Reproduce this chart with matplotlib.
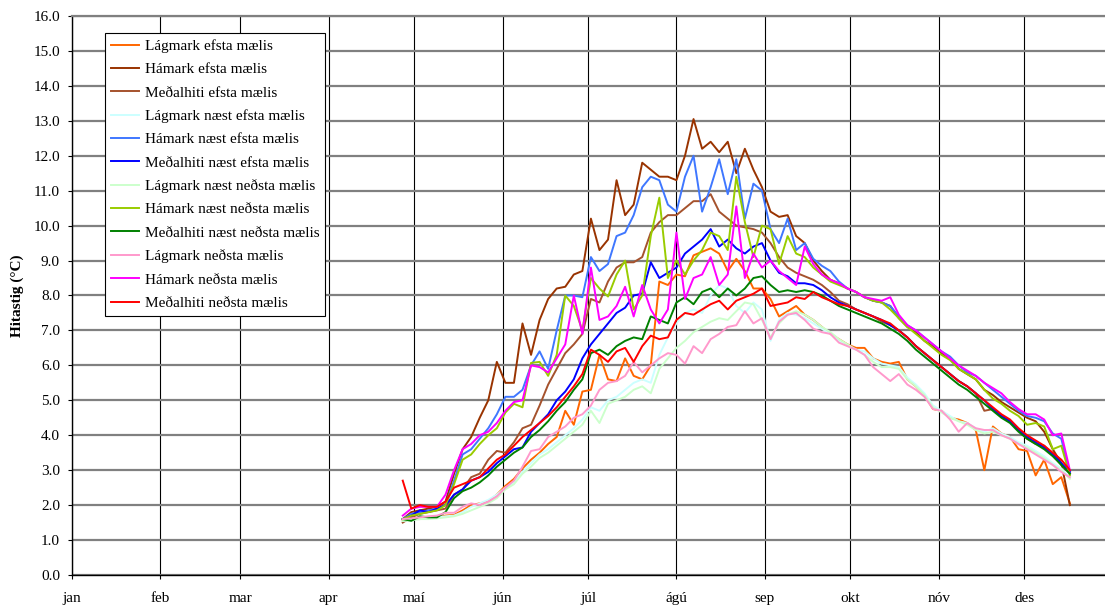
import matplotlib
matplotlib.use("Agg")
import matplotlib.pyplot as plt

plt.rcParams['font.family'] = ['Liberation Serif', 'DejaVu Serif']

# day of year (jan 1 = 0), one reading every third day
days = list(range(116, 351, 3))

months = ['jan', 'feb', 'mar', 'apr', 'maí', 'jún', 'júl', 'ágú', 'sep', 'okt', 'nóv', 'des']
month_start = [0, 31, 59, 90, 120, 151, 181, 212, 243, 273, 304, 334]

low_e = [1.55, 1.6, 1.6, 1.65, 1.65, 1.7, 1.72, 1.85, 2.0, 2.05,
         2.1, 2.3, 2.55, 2.75, 3.05, 3.3, 3.5, 3.75, 3.95, 4.7,
         4.3, 5.25, 5.3, 6.3, 5.6, 5.55, 6.2, 5.7, 5.6, 6.0,
         8.4, 8.3, 8.6, 8.55, 9.15, 9.25, 9.35, 9.2, 8.7, 9.05,
         8.7, 8.2, 8.2, 7.9, 7.4, 7.55, 7.7, 7.45, 7.3, 7.1,
         6.9, 6.75, 6.6, 6.5, 6.5, 6.2, 6.1, 6.05, 6.1, 5.6,
         5.4, 5.15, 4.75, 4.7, 4.5, 4.45, 4.35, 4.15, 3.0, 4.25,
         4.05, 3.95, 3.6, 3.55, 2.85, 3.3, 2.6, 2.8, 2.05]
hmax_e = [1.6, 1.8, 1.85, 1.9, 1.95, 2.1, 2.9, 3.6, 3.95, 4.5,
          5.0, 6.1, 5.5, 5.5, 7.2, 6.3, 7.3, 7.9, 8.2, 8.25,
          8.6, 8.7, 10.2, 9.3, 9.6, 11.3, 10.3, 10.6, 11.8, 11.6,
          11.4, 11.4, 11.3, 12.0, 13.05, 12.2, 12.4, 12.1, 12.4, 11.5,
          12.2, 11.6, 11.1, 10.4, 10.25, 10.3, 9.7, 9.5, 9.0, 8.7,
          8.45, 8.35, 8.2, 8.1, 7.95, 7.85, 7.8, 7.7, 7.35, 7.1,
          6.95, 6.7, 6.55, 6.35, 6.2, 5.9, 5.75, 5.6, 5.3, 5.15,
          4.95, 4.8, 4.65, 4.5, 4.4, 4.1, 3.6, 3.2, 2.0]
mean_e = [1.5, 1.65, 1.75, 1.8, 1.85, 1.9, 2.3, 2.45, 2.8, 2.9,
          3.3, 3.55, 3.5, 3.8, 4.2, 4.3, 4.85, 5.45, 5.9, 6.35,
          6.6, 6.9, 7.9, 7.8, 8.4, 8.8, 8.95, 8.95, 9.1, 9.8,
          10.1, 10.3, 10.3, 10.5, 10.7, 10.7, 10.9, 10.4, 10.2, 10.0,
          9.95, 9.9, 9.8, 9.5, 9.1, 8.8, 8.65, 8.55, 8.45, 8.3,
          8.1, 7.85, 7.75, 7.6, 7.5, 7.4, 7.25, 7.15, 7.0, 6.8,
          6.55, 6.35, 6.15, 5.95, 5.75, 5.55, 5.4, 5.2, 4.7, 4.75,
          4.55, 4.4, 4.15, 3.9, 3.75, 3.7, 3.45, 3.15, 2.9]
low_ne = [1.55, 1.58, 1.6, 1.62, 1.65, 1.68, 1.7, 1.8, 1.95, 2.05,
          2.15, 2.3, 2.5, 2.65, 2.95, 3.2, 3.45, 3.6, 3.8, 4.0,
          4.2, 4.45, 4.8, 4.7, 5.0, 5.1, 5.3, 5.5, 5.6, 5.5,
          6.3, 6.8, 7.2, 7.5, 7.6, 7.5, 8.0, 8.3, 8.2, 7.7,
          7.5, 7.8, 7.6, 6.7, 7.3, 7.5, 7.45, 7.35, 7.2, 7.05,
          6.9, 6.7, 6.55, 6.45, 6.4, 6.2, 6.05, 6.0, 5.95, 5.65,
          5.45, 5.2, 4.85, 4.7, 4.55, 4.4, 4.35, 4.2, 4.1, 4.2,
          4.05, 3.95, 3.8, 3.7, 3.55, 3.4, 3.2, 3.05, 2.8]
hmax_ne = [1.6, 1.75, 1.8, 1.85, 1.9, 2.0, 2.7, 3.45, 3.6, 3.9,
           4.2, 4.6, 5.1, 5.1, 5.3, 6.0, 6.4, 5.9, 7.0, 8.0,
           8.0, 7.95, 9.1, 8.7, 8.9, 9.7, 9.8, 10.3, 11.1, 11.4,
           11.3, 10.6, 10.4, 11.4, 12.0, 10.4, 11.1, 11.9, 10.9, 11.9,
           10.2, 11.2, 11.0, 9.9, 9.5, 10.2, 9.3, 9.5, 9.05, 8.85,
           8.7, 8.4, 8.2, 8.1, 7.95, 7.85, 7.8, 7.7, 7.4, 7.15,
           7.0, 6.8, 6.6, 6.4, 6.25, 6.0, 5.8, 5.7, 5.5, 5.3,
           5.1, 4.9, 4.7, 4.55, 4.5, 4.4, 4.05, 3.9, 2.9]
mean_ne = [1.6, 1.7, 1.85, 1.8, 1.9, 2.0, 2.3, 2.45, 2.7, 2.8,
           2.95, 3.2, 3.4, 3.6, 3.65, 4.1, 4.35, 4.6, 5.0, 5.25,
           5.6, 6.2, 6.6, 6.9, 7.2, 7.5, 7.65, 8.0, 8.05, 8.95,
           8.5, 8.65, 8.8, 9.2, 9.4, 9.6, 9.9, 9.4, 9.6, 9.35,
           9.2, 9.4, 9.5, 9.0, 8.65, 8.55, 8.35, 8.35, 8.3, 8.15,
           7.95, 7.8, 7.7, 7.6, 7.5, 7.4, 7.3, 7.15, 7.0, 6.8,
           6.55, 6.35, 6.15, 5.95, 5.75, 5.55, 5.4, 5.2, 5.0, 4.75,
           4.55, 4.4, 4.15, 3.95, 3.8, 3.65, 3.45, 3.2, 2.95]
low_nn = [1.55, 1.57, 1.6, 1.6, 1.62, 1.65, 1.68, 1.75, 1.85, 1.95,
          2.05, 2.2, 2.45, 2.6, 2.9, 3.1, 3.35, 3.5, 3.7, 3.9,
          4.1, 4.3, 4.7, 4.35, 4.9, 5.0, 5.1, 5.3, 5.4, 5.2,
          5.9, 6.2, 6.5, 6.7, 6.95, 7.1, 7.25, 7.35, 7.3, 7.55,
          7.8, 7.75, 7.3, 6.8, 7.2, 7.45, 7.55, 7.45, 7.3, 7.1,
          6.95, 6.75, 6.6, 6.45, 6.3, 6.1, 5.95, 5.95, 5.9, 5.6,
          5.4, 5.15, 4.8, 4.65, 4.5, 4.4, 4.3, 4.15, 4.05, 4.1,
          4.0, 3.9, 3.75, 3.65, 3.5, 3.35, 3.15, 3.0, 2.75]
hmax_nn = [1.6, 1.7, 1.75, 1.8, 1.85, 2.0, 2.6, 3.3, 3.45, 3.75,
           4.0, 4.2, 4.65, 4.9, 4.8, 6.07, 6.1, 5.7, 6.3, 8.0,
           7.7, 7.0, 8.5, 8.2, 7.97, 8.6, 9.0, 7.6, 8.0, 9.7,
           10.8, 8.5, 9.0, 8.6, 9.0, 9.3, 9.8, 9.7, 9.3, 11.4,
           10.1, 9.1, 10.0, 9.9, 8.9, 9.7, 9.2, 9.1, 8.8, 8.6,
           8.4, 8.3, 8.2, 8.1, 7.95, 7.85, 7.8, 7.6, 7.35, 7.1,
           6.9, 6.7, 6.5, 6.3, 6.15, 5.9, 5.75, 5.6, 5.3, 5.05,
           4.9, 4.7, 4.55, 4.3, 4.35, 4.25, 3.6, 3.7, 2.85]
mean_nn = [1.6, 1.55, 1.68, 1.65, 1.65, 1.8, 2.2, 2.4, 2.5, 2.65,
           2.85, 3.1, 3.3, 3.5, 3.65, 3.95, 4.15, 4.4, 4.7, 4.95,
           5.3, 5.6, 6.35, 6.45, 6.3, 6.55, 6.7, 6.8, 6.75, 7.4,
           7.3, 7.2, 7.8, 7.95, 7.75, 8.1, 8.2, 7.95, 8.2, 8.0,
           8.2, 8.5, 8.55, 8.3, 8.1, 8.15, 8.1, 8.15, 8.1, 8.0,
           7.85, 7.7, 7.6, 7.5, 7.4, 7.3, 7.2, 7.05, 6.9, 6.7,
           6.45, 6.25, 6.05, 5.85, 5.65, 5.45, 5.3, 5.1, 4.9, 4.7,
           4.5, 4.35, 4.1, 3.9, 3.75, 3.6, 3.4, 3.15, 2.9]
low_n = [1.6, 1.62, 1.65, 1.68, 1.7, 1.78, 1.78, 1.95, 2.05, 2.0,
         2.1, 2.25, 2.5, 2.7, 3.1, 3.55, 3.6, 3.95, 4.1, 4.25,
         4.5, 4.6, 4.85, 5.3, 5.5, 5.55, 5.7, 6.1, 5.8, 6.0,
         6.2, 6.35, 6.3, 6.05, 6.55, 6.35, 6.75, 6.9, 7.1, 7.15,
         7.55, 7.2, 7.35, 6.75, 7.25, 7.45, 7.5, 7.3, 7.05, 6.95,
         6.9, 6.65, 6.55, 6.45, 6.3, 5.95, 5.75, 5.55, 5.75, 5.45,
         5.3, 5.1, 4.75, 4.7, 4.45, 4.1, 4.35, 4.2, 4.15, 4.15,
         4.0, 3.9, 3.75, 3.6, 3.45, 3.3, 3.15, 2.95, 2.8]
hmax_n = [1.7, 1.9, 1.95, 1.95, 1.95, 2.3, 3.0, 3.6, 3.75, 4.0,
          4.1, 4.35, 4.7, 4.95, 5.0, 6.0, 5.95, 5.8, 6.2, 6.6,
          8.0, 6.9, 8.8, 7.3, 7.4, 7.7, 8.25, 7.4, 8.3, 7.6,
          7.2, 7.6, 9.8, 7.9, 8.5, 8.6, 9.1, 8.3, 8.6, 10.55,
          8.5, 9.2, 8.8, 9.0, 8.7, 8.5, 8.3, 9.4, 8.9, 8.6,
          8.45, 8.35, 8.2, 8.1, 7.95, 7.9, 7.85, 7.95, 7.45, 7.15,
          7.0, 6.8, 6.6, 6.4, 6.2, 6.0, 5.85, 5.7, 5.5, 5.35,
          5.2, 4.95, 4.75, 4.6, 4.6, 4.45, 4.0, 4.05, 3.0]
mean_n = [2.7, 1.9, 2.0, 1.95, 1.95, 2.1, 2.5, 2.6, 2.7, 2.8,
          3.05, 3.3, 3.45, 3.7, 3.95, 4.15, 4.35, 4.55, 4.8, 5.1,
          5.4, 5.75, 6.45, 6.3, 6.1, 6.4, 6.5, 6.1, 6.55, 6.85,
          6.75, 6.8, 7.3, 7.5, 7.45, 7.6, 7.75, 7.85, 7.6, 7.85,
          7.95, 8.05, 8.2, 7.7, 7.75, 7.8, 7.95, 7.9, 8.1, 7.95,
          7.85, 7.75, 7.7, 7.6, 7.5, 7.4, 7.3, 7.2, 7.0, 6.8,
          6.55, 6.35, 6.15, 5.95, 5.75, 5.55, 5.4, 5.2, 5.0, 4.8,
          4.6, 4.45, 4.2, 4.0, 3.85, 3.7, 3.5, 3.3, 3.0]

labels = ['Lágmark efsta mælis', 'Hámark efsta mælis', 'Meðalhiti efsta mælis',
          'Lágmark næst efsta mælis', 'Hámark næst efsta mælis', 'Meðalhiti næst efsta mælis',
          'Lágmark næst neðsta mælis', 'Hámark næst neðsta mælis', 'Meðalhiti næst neðsta mælis',
          'Lágmark neðsta mælis', 'Hámark neðsta mælis', 'Meðalhiti neðsta mælis']
values = [low_e, hmax_e, mean_e, low_ne, hmax_ne, mean_ne,
          low_nn, hmax_nn, mean_nn, low_n, hmax_n, mean_n]
colors = ['#FF6600', '#993300', '#A5522D', '#CCFFFF', '#3F77FF', '#0000FF',
          '#CCFFCC', '#99CC00', '#008000', '#FF99CC', '#FF00FF', '#FF0000']

fig = plt.figure(figsize=(11.05, 6.08), dpi=100)
ax = fig.add_axes([0.0652, 0.0543, 0.9417, 0.9194])

for lab, vals, col in zip(labels, values, colors):
    ax.plot(days, vals, '-', color=col, linewidth=1.4, label=lab)

ax.set_xlim(0, 365)
ax.set_ylim(0, 16)
ax.set_xticks(month_start)
ax.set_xticklabels(months)
ax.set_yticks(range(17))
ax.set_yticklabels(['%.1f' % v for v in range(17)])

ax.yaxis.grid(True, color='#808080', linewidth=1.6)
ax.xaxis.grid(True, color='black', linewidth=0.8)
ax.set_axisbelow(True)

ax.spines['right'].set_visible(False)
ax.spines['top'].set_color('#808080')
ax.spines['top'].set_linewidth(1.6)
ax.spines['left'].set_linewidth(1.0)
ax.spines['bottom'].set_linewidth(1.0)

ax.tick_params(axis='both', direction='out', length=2.9, width=0.8, labelsize=11)
ax.tick_params(axis='x', pad=9.5)
ax.tick_params(axis='y', pad=5.8)

ax.set_ylabel(u'Hitastig (°C)', fontsize=11, fontweight='bold')
ax.yaxis.set_label_coords(-0.046, 0.5)

leg = ax.legend(loc='upper left', bbox_to_anchor=(0.0317, 0.9696), borderaxespad=0,
                fontsize=11, frameon=True, fancybox=False, edgecolor='black', framealpha=1,
                handlelength=1.85, handletextpad=0.35, labelspacing=0.63, borderpad=0.4)
leg.get_frame().set_linewidth(0.8)

plt.savefig('out.png', dpi=100)
